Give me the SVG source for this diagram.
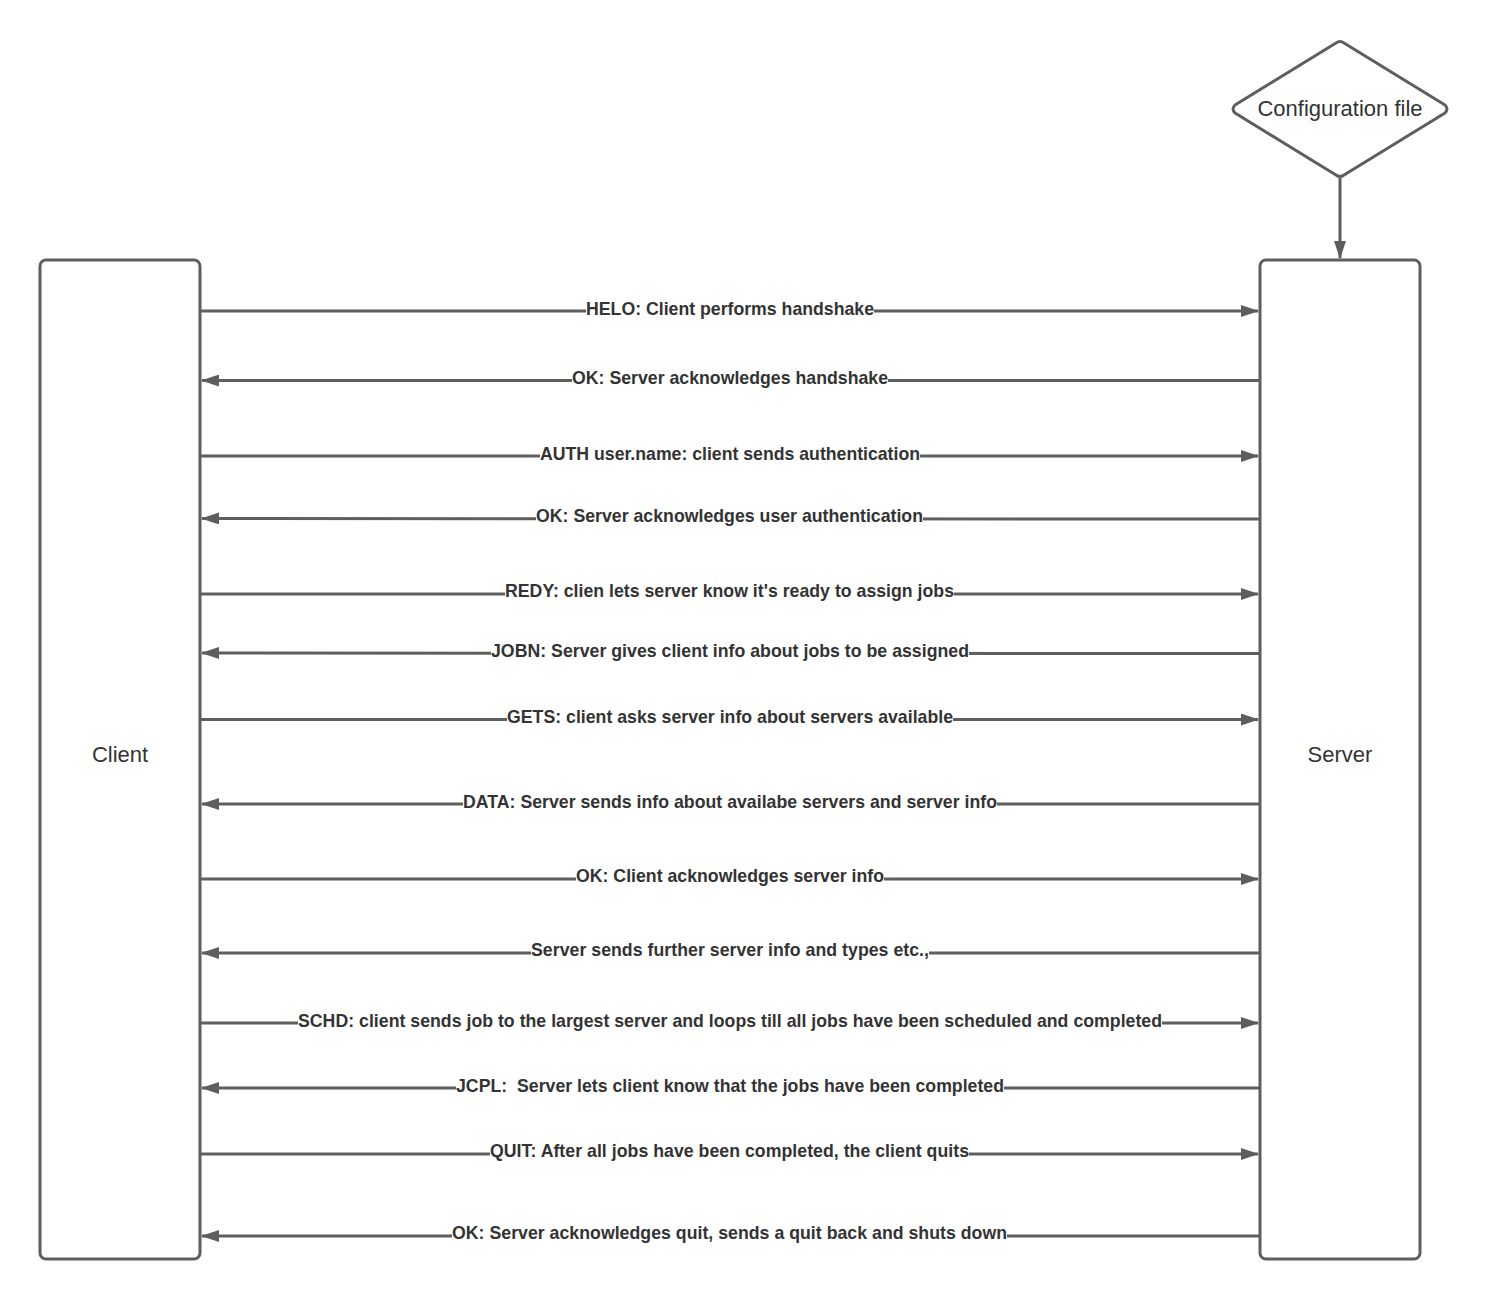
<svg xmlns="http://www.w3.org/2000/svg" width="1490" height="1300" viewBox="0 0 1490 1300">
  <defs>
    <marker id="arrow" viewBox="0 0 18 12" refX="17" refY="6" markerWidth="18" markerHeight="12" markerUnits="userSpaceOnUse" orient="auto">
      <path d="M0,0 L18,6 L0,12 Z" fill="#5e5e5e"/>
    </marker>
    <style>
      .shape { fill: #ffffff; stroke: #5e5e5e; stroke-width: 3; }
      .name { font-family: "Liberation Sans", Arial, sans-serif; font-size: 22px; fill: #333333; text-anchor: middle; }
      .msg { fill: none; stroke: #5e5e5e; stroke-width: 3; marker-end: url(#arrow); }
      .lbl-bg { fill: #ffffff; }
      .lbl { font-family: "Liberation Sans", Arial, sans-serif; font-size: 17.7px; font-weight: bold; fill: #333333; white-space: pre; }
    </style>
  </defs>
  <rect width="1490" height="1300" fill="#ffffff"/>

  <g id="config-file">
    <path class="shape" stroke-linejoin="round" d="M1336,43 Q1340,40 1344,43 L1445,105 Q1449,109 1445,113 L1344,175 Q1340,178 1336,175 L1235,113 Q1231,109 1235,105 Z"/>
    <text class="name" x="1340" y="116">Configuration file</text>
  </g>

  <g id="client">
    <rect class="shape" x="40" y="260" width="160" height="999" rx="6"/>
    <text class="name" x="120" y="762">Client</text>
  </g>

  <g id="server">
    <rect class="shape" x="1260" y="260" width="160" height="999" rx="6"/>
    <text class="name" x="1340" y="762">Server</text>
  </g>

  <g id="connectors">
    <path class="msg" d="M1340,178 V258"/>
    <path class="msg" d="M201,311 H1258"/>
    <path class="msg" d="M1259,380.5 H202"/>
    <path class="msg" d="M201,456 H1258"/>
    <path class="msg" d="M1259,519 L202,518.5"/>
    <path class="msg" d="M201,594 H1258"/>
    <path class="msg" d="M1259,653.5 L202,653"/>
    <path class="msg" d="M201,719.5 L1258,719.5"/>
    <path class="msg" d="M1259,804 H202"/>
    <path class="msg" d="M201,879 H1258"/>
    <path class="msg" d="M1259,953 H202"/>
    <path class="msg" d="M201,1023 H1258"/>
    <path class="msg" d="M1259,1088 H202"/>
    <path class="msg" d="M201,1154 H1258"/>
    <path class="msg" d="M1259,1236 H202"/>
  </g>

  <g id="labels">
    <rect class="lbl-bg" x="586" y="300" width="288" height="18"/>
    <text class="lbl" x="586" y="315" textLength="288" lengthAdjust="spacing">HELO: Client performs handshake</text>

    <rect class="lbl-bg" x="572" y="369" width="316" height="18"/>
    <text class="lbl" x="572" y="384" textLength="316" lengthAdjust="spacing">OK: Server acknowledges handshake</text>

    <rect class="lbl-bg" x="540" y="445" width="380" height="18"/>
    <text class="lbl" x="540" y="460" textLength="380" lengthAdjust="spacing">AUTH user.name: client sends authentication</text>

    <rect class="lbl-bg" x="536" y="507" width="387" height="18"/>
    <text class="lbl" x="536" y="522" textLength="387" lengthAdjust="spacing">OK: Server acknowledges user authentication</text>

    <rect class="lbl-bg" x="505" y="582" width="449" height="18"/>
    <text class="lbl" x="505" y="597" textLength="449" lengthAdjust="spacing">REDY: clien lets server know it's ready to assign jobs</text>

    <rect class="lbl-bg" x="491" y="642" width="478" height="18"/>
    <text class="lbl" x="491" y="657" textLength="478" lengthAdjust="spacing">JOBN: Server gives client info about jobs to be assigned</text>

    <rect class="lbl-bg" x="507" y="708" width="446" height="18"/>
    <text class="lbl" x="507" y="723" textLength="446" lengthAdjust="spacing">GETS: client asks server info about servers available</text>

    <rect class="lbl-bg" x="463" y="793" width="534" height="18"/>
    <text class="lbl" x="463" y="808" textLength="534" lengthAdjust="spacing">DATA: Server sends info about availabe servers and server info</text>

    <rect class="lbl-bg" x="576" y="867" width="308" height="18"/>
    <text class="lbl" x="576" y="882" textLength="308" lengthAdjust="spacing">OK: Client acknowledges server info</text>

    <rect class="lbl-bg" x="531" y="941" width="398" height="18"/>
    <text class="lbl" x="531" y="956" textLength="398" lengthAdjust="spacing">Server sends further server info and types etc.,</text>

    <rect class="lbl-bg" x="298" y="1012" width="864" height="18"/>
    <text class="lbl" x="298" y="1027" textLength="864" lengthAdjust="spacing">SCHD: client sends job to the largest server and loops till all jobs have been scheduled and completed</text>

    <rect class="lbl-bg" x="456" y="1077" width="548" height="18"/>
    <text class="lbl" x="456" y="1092" textLength="548" lengthAdjust="spacing">JCPL:  Server lets client know that the jobs have been completed</text>

    <rect class="lbl-bg" x="490" y="1142" width="479" height="18"/>
    <text class="lbl" x="490" y="1157" textLength="479" lengthAdjust="spacing">QUIT: After all jobs have been completed, the client quits</text>

    <rect class="lbl-bg" x="452" y="1224" width="555" height="18"/>
    <text class="lbl" x="452" y="1239" textLength="555" lengthAdjust="spacing">OK: Server acknowledges quit, sends a quit back and shuts down</text>
  </g>
</svg>
